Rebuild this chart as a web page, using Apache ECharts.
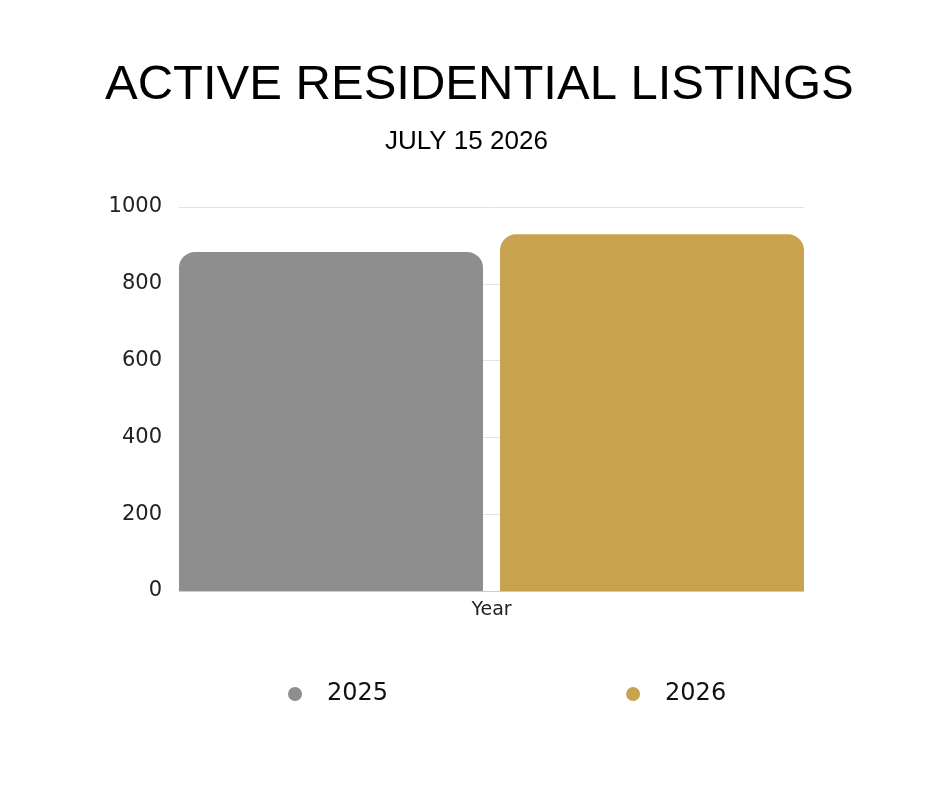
<!DOCTYPE html>
<html>
<head>
<meta charset="utf-8">
<script src="https://cdn.jsdelivr.net/npm/echarts@6/dist/echarts.min.js"></script>
<style>
  html, body { margin: 0; padding: 0; background: #fff; }
  #chart { width: 940px; height: 788px; }
</style>
</head>
<body>
<div id="chart"></div>
<script>
const categories = ['Year'];
const seriesNames = ['2025', '2026'];
const values2025 = [883];
const values2026 = [929];
const colors = ['#8e8e8e', '#c8a24e'];

const chart = echarts.init(document.getElementById('chart'));

chart.setOption({
  backgroundColor: '#ffffff',
  animation: false,
  title: [
    {
      text: 'ACTIVE RESIDENTIAL LISTINGS',
      left: 100,
      top: 56,
      textStyle: { fontFamily: 'Liberation Sans', fontSize: 49, fontWeight: 'normal', color: '#000' },
    },
    {
      text: 'JULY 15 2026',
      left: 380,
      top: 124,
      textStyle: { fontFamily: 'Liberation Sans', fontSize: 26, fontWeight: 'normal', color: '#000' },
    },
  ],
  legend: {
    data: seriesNames,
    left: 283,
    top: 677,
    icon: 'circle',
    itemWidth: 14,
    itemHeight: 14,
    itemGap: 238,
    textStyle: {
      fontFamily: 'DejaVu Sans',
      fontSize: 24,
      color: '#111',
      padding: [0, 0, 0, 20],
    },
  },
  grid: { left: 179, right: 136, top: 207, bottom: 197, containLabel: false },
  xAxis: {
    type: 'category',
    data: categories,
    axisLine: { lineStyle: { color: '#cccccc' } },
    axisTick: { show: false },
    axisLabel: { fontFamily: 'DejaVu Sans', fontSize: 19, color: '#222', margin: 10 },
  },
  yAxis: {
    type: 'value',
    min: 0,
    max: 1000,
    interval: 200,
    axisLine: { show: false },
    axisTick: { show: false },
    axisLabel: {
      fontFamily: 'DejaVu Sans',
      fontSize: 21,
      color: '#222',
      margin: 17,
      padding: [4, 0, 0, 0],
      formatter: (v) => String(v),
    },
    splitLine: { lineStyle: { color: '#e3e3e3' } },
  },
  series: [
    {
      name: seriesNames[0],
      type: 'bar',
      data: values2025,
      barGap: '5.6%',
      barCategoryGap: '0%',
      itemStyle: { color: colors[0], borderRadius: [16, 16, 0, 0] },
    },
    {
      name: seriesNames[1],
      type: 'bar',
      data: values2026,
      barGap: '5.6%',
      barCategoryGap: '0%',
      itemStyle: { color: colors[1], borderRadius: [16, 16, 0, 0] },
    },
  ],
});
</script>
</body>
</html>
